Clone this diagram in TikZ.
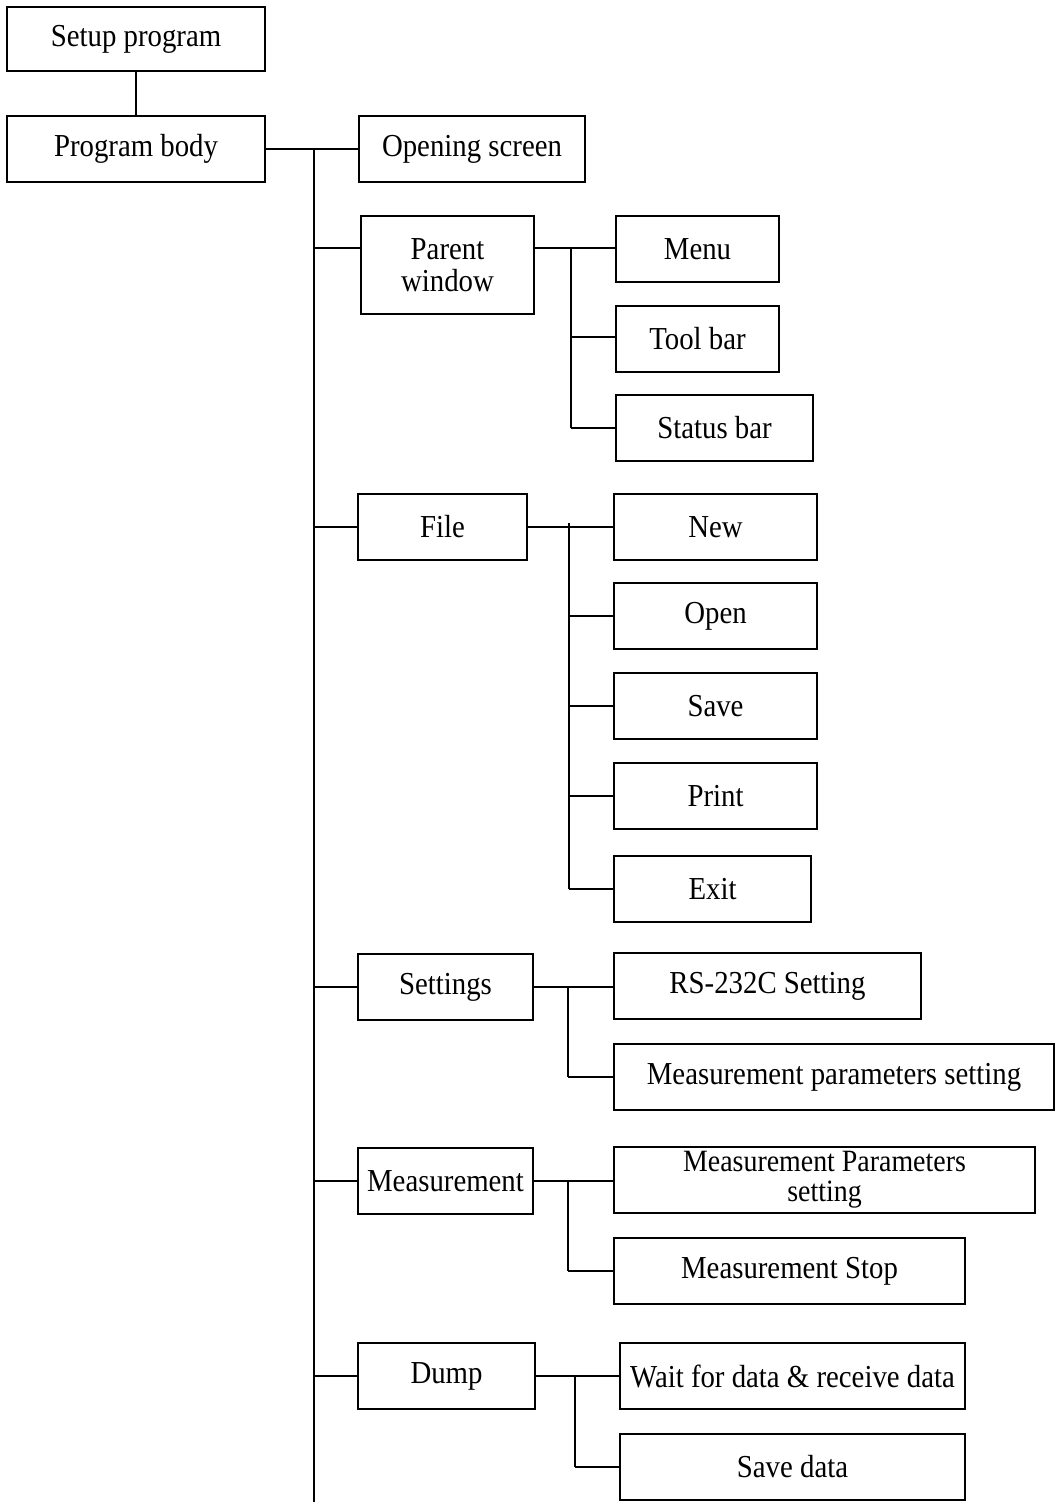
\documentclass[tikz,border=0pt]{standalone}
\usepackage{fontspec}
\setmainfont{Liberation Serif}[FakeStretch=0.9]
\begin{document}
\begin{tikzpicture}[x=1pt,y=-1pt,
  bx/.style={draw, line width=1.6pt, inner sep=0pt, align=center,
    font=\fontsize{32}{32}\selectfont},
  ln/.style={line width=1.6pt}]
\useasboundingbox (0,0) rectangle (1056,1502);
% boxes
\node[bx, minimum width=258, minimum height=64] (setup) at (136,39) {Setup program};
\node[bx, minimum width=258, minimum height=66] (body) at (136,149) {Program body};
\node[bx, minimum width=226, minimum height=66] (open) at (472,149) {Opening screen};
\node[bx, minimum width=173, minimum height=98] (parent) at (447.5,265) {Parent\\window};
\node[bx, minimum width=163, minimum height=66] (menu) at (697.5,249) {Menu};
\node[bx, minimum width=163, minimum height=66] (tool) at (697.5,339) {Tool bar};
\node[bx, minimum width=197, minimum height=66] (status) at (714.5,428) {Status bar};
\node[bx, minimum width=169, minimum height=66] (file) at (442.5,527) {File};
\node[bx, minimum width=203, minimum height=66] (new) at (715.5,527) {New};
\node[bx, minimum width=203, minimum height=66] (openf) at (715.5,616) {Open};
\node[bx, minimum width=203, minimum height=66] (save) at (715.5,706) {Save};
\node[bx, minimum width=203, minimum height=66] (print) at (715.5,796) {Print};
\node[bx, minimum width=197, minimum height=66] (exit) at (712.5,889) {Exit};
\node[bx, minimum width=175, minimum height=66] (settings) at (445.5,987) {Settings};
\node[bx, minimum width=307, minimum height=66] (rs) at (767.5,986) {RS-232C Setting};
\node[bx, minimum width=440, minimum height=66] (mps) at (834,1077) {Measurement parameters setting};
\node[bx, minimum width=175, minimum height=66] (meas) at (445.5,1181) {Measurement};
\node[bx, minimum width=421, minimum height=66, font=\fontsize{31}{30}\selectfont] (mpset) at (824.5,1180) {Measurement Parameters\\setting};
\node[bx, minimum width=351, minimum height=66] (mstop) at (789.5,1271) {Measurement Stop};
\node[bx, minimum width=177, minimum height=66] (dump) at (446.5,1376) {Dump};
\node[bx, minimum width=345, minimum height=66] (wait) at (792.5,1376) {Wait for data \& receive data};
\node[bx, minimum width=345, minimum height=66] (savedata) at (792.5,1467) {Save data};
% coordinates
\coordinate (T) at (314,149);
\coordinate (Tb) at (314,1502);
\coordinate (pw) at ([yshift=17pt]parent.west);
\coordinate (pe) at ([yshift=17pt]parent.east);
\coordinate (P) at (571,248);
\coordinate (F) at (569,523);
\coordinate (S) at (568,986);
\coordinate (M) at (568,1180);
\coordinate (D) at (575,1376);
% connectors
\draw[ln] (setup.south) -- (body.north);
\draw[ln] (body.east) -- (open.west);
\draw[ln] (T) -- (Tb);
\draw[ln] (T |- pw) -- (pw);
\draw[ln] (T |- file.west) -- (file.west);
\draw[ln] (T |- settings.west) -- (settings.west);
\draw[ln] (T |- meas.west) -- (meas.west);
\draw[ln] (T |- dump.west) -- (dump.west);
% parent window
\draw[ln] (pe) -- (pe -| menu.west);
\draw[ln] (P) -- (P |- status.west);
\draw[ln] ([yshift=2pt]P |- tool.west) -- ([yshift=2pt]tool.west);
\draw[ln] (P |- status.west) -- (status.west);
% file
\draw[ln] (file.east) -- (new.west);
\draw[ln] (F) -- (F |- exit.west);
\draw[ln] (F |- openf.west) -- (openf.west);
\draw[ln] (F |- save.west) -- (save.west);
\draw[ln] (F |- print.west) -- (print.west);
\draw[ln] (F |- exit.west) -- (exit.west);
% settings
\draw[ln] (settings.east) -- (settings.east -| rs.west);
\draw[ln] (S) -- (S |- mps.west);
\draw[ln] (S |- mps.west) -- (mps.west);
% measurement
\draw[ln] (meas.east) -- (meas.east -| mpset.west);
\draw[ln] (M) -- (M |- mstop.west);
\draw[ln] (M |- mstop.west) -- (mstop.west);
% dump
\draw[ln] (dump.east) -- (wait.west);
\draw[ln] (D) -- (D |- savedata.west);
\draw[ln] (D |- savedata.west) -- (savedata.west);
\end{tikzpicture}
\end{document}
